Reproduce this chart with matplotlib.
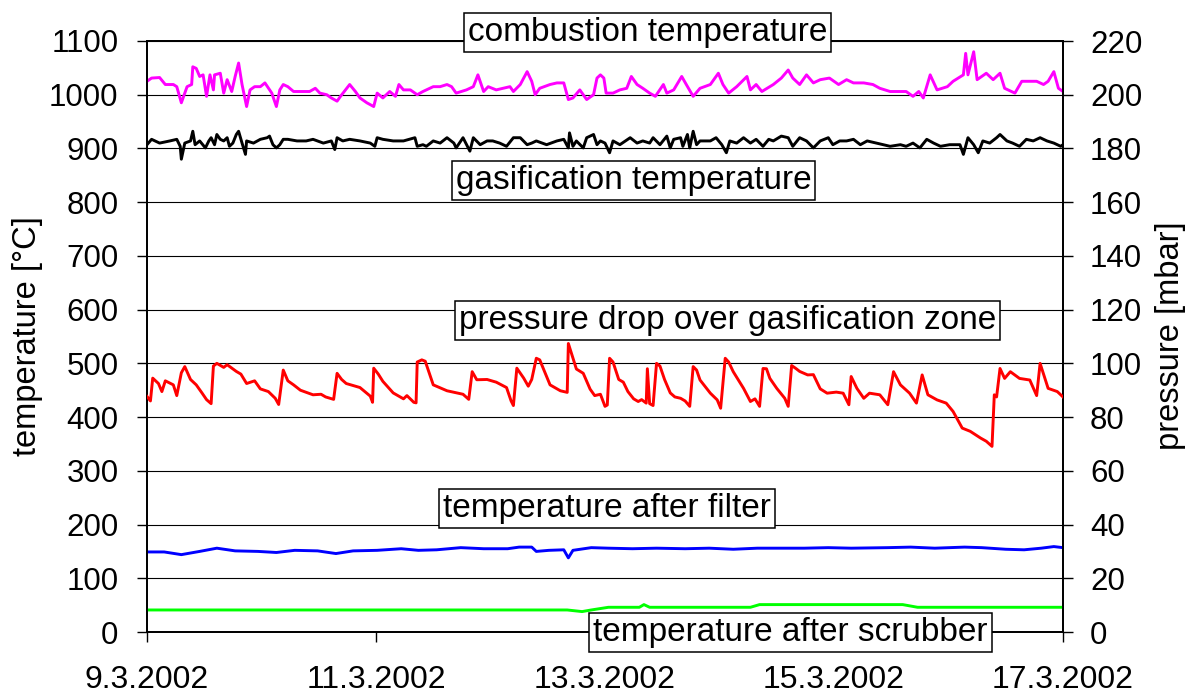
import matplotlib
matplotlib.use("Agg")
import matplotlib.pyplot as plt

plt.rcParams['font.family'] = ['Liberation Sans', 'DejaVu Sans']

# ---------------- data (x = days since 9.3.2002 00:00) ----------------
xtick_days = [0, 2, 4, 6, 8]
xtick_labels = ["9.3.2002", "11.3.2002", "13.3.2002", "15.3.2002", "17.3.2002"]

# combustion temperature [°C]
comb_days = [0.00, 0.04, 0.11, 0.16, 0.23, 0.26, 0.30, 0.35, 0.39, 0.40,
             0.43, 0.46, 0.49, 0.52, 0.55, 0.58, 0.59, 0.64, 0.67, 0.70,
             0.74, 0.77, 0.80, 0.83, 0.87, 0.90, 0.94, 0.99, 1.03, 1.09,
             1.13, 1.16, 1.19, 1.23, 1.28, 1.34, 1.42, 1.47, 1.51, 1.57,
             1.61, 1.66, 1.69, 1.77, 1.82, 1.86, 1.92, 1.98, 2.01, 2.06,
             2.12, 2.17, 2.20, 2.24, 2.30, 2.36, 2.41, 2.50, 2.56, 2.62,
             2.66, 2.70, 2.79, 2.85, 2.89, 2.94, 2.98, 3.05, 3.11, 3.17,
             3.20, 3.26, 3.32, 3.36, 3.39, 3.43, 3.52, 3.58, 3.64, 3.68,
             3.72, 3.78, 3.84, 3.90, 3.93, 3.96, 3.99, 4.01, 4.07, 4.13,
             4.19, 4.23, 4.28, 4.33, 4.39, 4.44, 4.51, 4.54, 4.60, 4.67,
             4.71, 4.77, 4.83, 4.92, 4.99, 5.03, 5.08, 5.15, 5.24, 5.27,
             5.32, 5.37, 5.47, 5.54, 5.60, 5.64, 5.70, 5.76, 5.82, 5.88,
             5.96, 6.04, 6.11, 6.17, 6.26, 6.34, 6.40, 6.49, 6.58, 6.63,
             6.69, 6.74, 6.78, 6.84, 6.90, 6.99, 7.04, 7.13, 7.15, 7.17,
             7.22, 7.25, 7.33, 7.39, 7.45, 7.49, 7.58, 7.64, 7.71, 7.77,
             7.83, 7.87, 7.92, 7.96, 8.00]
comb_vals = [1025, 1031, 1032, 1019, 1019, 1015, 985, 1015, 1019, 1052,
             1049, 1034, 1037, 997, 1037, 1009, 1037, 1040, 1003, 1028,
             1006, 1034, 1059, 1019, 978, 1009, 1015, 1015, 1022, 1003,
             978, 1009, 1019, 1015, 1006, 1006, 1006, 1012, 1003, 1000,
             994, 988, 997, 1019, 1006, 994, 985, 978, 1003, 994,
             1006, 997, 1019, 1009, 1009, 1000, 1006, 1015, 1015, 1019,
             1015, 1003, 1009, 1015, 1037, 1006, 1015, 1009, 1012, 1015,
             1006, 1019, 1043, 1025, 1000, 1012, 1019, 1022, 1022, 991,
             994, 1009, 991, 1000, 1031, 1037, 1031, 1003, 1003, 1009,
             1012, 1034, 1019, 1012, 1003, 997, 1019, 1003, 1009, 1034,
             1019, 997, 1012, 1019, 1040, 1019, 1003, 1015, 1034, 1009,
             1019, 1006, 1019, 1031, 1046, 1031, 1019, 1037, 1022, 1028,
             1031, 1019, 1028, 1022, 1022, 1019, 1012, 1006, 1006, 1006,
             997, 1006, 994, 1037, 1009, 1015, 1025, 1037, 1077, 1037,
             1080, 1028, 1040, 1028, 1040, 1012, 1003, 1025, 1025, 1025,
             1019, 1025, 1043, 1012, 1006]

# gasification temperature [°C]
gas_days = [0.00, 0.04, 0.11, 0.20, 0.26, 0.29, 0.30, 0.33, 0.38, 0.40,
            0.42, 0.46, 0.51, 0.54, 0.56, 0.59, 0.61, 0.64, 0.67, 0.70,
            0.72, 0.75, 0.78, 0.80, 0.83, 0.86, 0.87, 0.93, 0.99, 1.05,
            1.07, 1.10, 1.13, 1.16, 1.19, 1.23, 1.31, 1.39, 1.45, 1.54,
            1.61, 1.64, 1.66, 1.71, 1.77, 1.86, 1.95, 1.99, 2.01, 2.06,
            2.15, 2.24, 2.34, 2.36, 2.41, 2.44, 2.50, 2.56, 2.62, 2.68,
            2.70, 2.76, 2.82, 2.85, 2.91, 2.97, 3.02, 3.08, 3.14, 3.20,
            3.26, 3.32, 3.36, 3.40, 3.49, 3.58, 3.64, 3.68, 3.69, 3.72,
            3.75, 3.81, 3.84, 3.90, 3.93, 3.96, 4.00, 4.04, 4.07, 4.13,
            4.22, 4.28, 4.33, 4.39, 4.42, 4.48, 4.54, 4.57, 4.60, 4.66,
            4.68, 4.72, 4.74, 4.77, 4.80, 4.83, 4.92, 4.97, 5.02, 5.06,
            5.09, 5.15, 5.21, 5.27, 5.32, 5.38, 5.43, 5.47, 5.54, 5.60,
            5.64, 5.70, 5.76, 5.82, 5.88, 5.95, 5.99, 6.05, 6.11, 6.17,
            6.23, 6.29, 6.37, 6.43, 6.49, 6.58, 6.63, 6.69, 6.75, 6.81,
            6.87, 6.93, 7.01, 7.10, 7.13, 7.17, 7.22, 7.26, 7.30, 7.36,
            7.42, 7.45, 7.51, 7.56, 7.62, 7.68, 7.74, 7.80, 7.86, 7.92,
            7.98, 8.00]
gas_vals = [907, 917, 910, 914, 917, 904, 880, 910, 914, 932,
            907, 914, 901, 914, 920, 907, 926, 917, 914, 920,
            904, 910, 926, 932, 910, 889, 914, 910, 917, 920,
            923, 907, 901, 907, 917, 917, 914, 914, 917, 910,
            914, 898, 920, 914, 917, 914, 910, 904, 920, 917,
            914, 914, 920, 904, 907, 904, 914, 910, 920, 910,
            901, 920, 895, 920, 907, 914, 914, 910, 904, 920,
            920, 907, 910, 914, 907, 914, 917, 901, 929, 904,
            914, 901, 920, 926, 907, 914, 910, 892, 914, 907,
            920, 910, 914, 910, 920, 907, 923, 901, 917, 920,
            904, 926, 901, 932, 907, 914, 914, 920, 907, 892,
            914, 910, 920, 910, 917, 904, 917, 914, 923, 920,
            904, 920, 914, 901, 914, 920, 907, 914, 914, 917,
            907, 914, 910, 907, 904, 907, 904, 910, 901, 917,
            910, 904, 907, 907, 889, 920, 907, 892, 914, 910,
            920, 926, 914, 910, 904, 917, 914, 920, 914, 910,
            904, 907]

# pressure drop over gasification zone [mbar]
pres_days = [0.00, 0.03, 0.05, 0.10, 0.13, 0.16, 0.23, 0.26, 0.30, 0.33,
             0.38, 0.43, 0.48, 0.52, 0.56, 0.58, 0.61, 0.67, 0.70, 0.78,
             0.82, 0.87, 0.94, 0.99, 1.06, 1.12, 1.15, 1.19, 1.23, 1.28,
             1.34, 1.45, 1.52, 1.56, 1.63, 1.66, 1.70, 1.74, 1.86, 1.95,
             1.97, 1.98, 2.02, 2.06, 2.15, 2.24, 2.27, 2.33, 2.35, 2.36,
             2.40, 2.43, 2.50, 2.62, 2.76, 2.81, 2.84, 2.88, 2.97, 3.05,
             3.14, 3.18, 3.20, 3.23, 3.29, 3.33, 3.36, 3.40, 3.43, 3.52,
             3.61, 3.67, 3.68, 3.75, 3.81, 3.87, 3.91, 3.96, 4.00, 4.02,
             4.04, 4.07, 4.12, 4.16, 4.20, 4.25, 4.29, 4.32, 4.36, 4.37,
             4.39, 4.42, 4.45, 4.48, 4.52, 4.57, 4.61, 4.66, 4.70, 4.74,
             4.77, 4.80, 4.83, 4.92, 4.98, 5.01, 5.05, 5.08, 5.12, 5.21,
             5.27, 5.31, 5.35, 5.38, 5.41, 5.44, 5.50, 5.57, 5.60, 5.63,
             5.67, 5.70, 5.77, 5.82, 5.88, 5.94, 6.02, 6.08, 6.13, 6.15,
             6.20, 6.26, 6.31, 6.40, 6.47, 6.52, 6.58, 6.66, 6.72, 6.77,
             6.82, 6.90, 6.98, 7.04, 7.12, 7.19, 7.28, 7.33, 7.38, 7.40,
             7.42, 7.45, 7.49, 7.54, 7.62, 7.71, 7.77, 7.80, 7.87, 7.95,
             8.00]
pres_vals = [87.7, 86.0, 94.5, 92.5, 89.5, 93.5, 92.0, 88.0, 96.5, 98.8,
             94.0, 92.0, 89.0, 86.5, 85.0, 99.0, 100.0, 98.5, 99.5, 97.0,
             96.0, 92.5, 93.5, 90.5, 89.5, 87.0, 84.7, 97.5, 93.5, 92.0,
             90.0, 88.3, 88.5, 87.5, 86.6, 96.3, 94.0, 92.5, 91.0, 87.8,
             85.5, 98.2, 96.0, 93.3, 89.0, 86.8, 88.0, 85.5, 85.3, 100.5,
             101.3, 100.8, 92.0, 89.8, 88.5, 86.6, 96.9, 93.9, 94.0, 93.0,
             91.0, 86.0, 84.3, 98.2, 94.5, 91.5, 94.0, 101.9, 101.3, 92.0,
             89.8, 89.2, 107.4, 97.9, 96.3, 90.4, 88.0, 88.5, 84.0, 84.5,
             101.9, 100.5, 94.0, 93.0, 89.5, 86.8, 85.8, 86.5, 85.2, 98.0,
             85.0, 84.3, 100.0, 99.0, 94.0, 89.0, 87.5, 87.0, 86.0, 84.0,
             98.8, 97.5, 93.8, 88.9, 86.4, 83.3, 101.9, 100.5, 96.9, 90.7,
             85.8, 86.8, 84.0, 98.1, 98.0, 94.4, 90.7, 87.0, 84.0, 99.2,
             98.0, 97.0, 95.7, 95.8, 90.5, 88.9, 89.3, 88.9, 84.6, 95.1,
             90.7, 87.0, 88.9, 88.3, 84.6, 96.9, 92.0, 88.9, 85.2, 95.7,
             88.3, 86.4, 85.2, 82.1, 75.9, 74.7, 72.2, 71.0, 69.1, 88.3,
             87.5, 98.1, 94.4, 96.9, 94.4, 93.8, 88.0, 100.0, 90.7, 89.5,
             87.5]

# temperature after filter [°C]
filt_days = [0.00, 0.15, 0.30, 0.46, 0.61, 0.77, 0.97, 1.13, 1.29, 1.49,
             1.65, 1.80, 2.01, 2.22, 2.37, 2.53, 2.74, 2.94, 3.15, 3.25,
             3.36, 3.40, 3.51, 3.64, 3.68, 3.72, 3.88, 4.03, 4.24, 4.45,
             4.70, 4.91, 5.12, 5.33, 5.53, 5.74, 5.95, 6.15, 6.47, 6.67,
             6.88, 7.14, 7.29, 7.50, 7.66, 7.81, 7.92, 8.00]
filt_vals = [149, 149, 144, 150, 156, 151, 150, 148, 152, 151,
             146, 151, 152, 155, 152, 153, 157, 155, 155, 158,
             158, 150, 152, 153, 138, 152, 157, 156, 155, 156,
             155, 156, 154, 156, 156, 156, 157, 156, 157, 158,
             156, 158, 157, 154, 153, 156, 159, 157]

# temperature after scrubber [°C]
scrub_days = [0.00, 3.67, 3.80, 3.88, 4.03, 4.30, 4.34, 4.39, 5.27, 5.35, 6.60, 6.73, 8.00]
scrub_vals = [41, 41, 38, 41, 46, 46, 51, 46, 46, 51, 51, 46, 46]

# label boxes: (text, x in days, y in °C)
label_texts = ["combustion temperature", "gasification temperature",
               "pressure drop over gasification zone",
               "temperature after filter", "temperature after scrubber"]
label_x = [4.37, 4.25, 5.07, 4.02, 5.62]
label_y = [1116, 840, 579, 230, -1]

# ---------------- figure ----------------
fig = plt.figure(figsize=(11.94, 6.95), dpi=100)
ax = fig.add_axes([147 / 1194, 63 / 695, 916 / 1194, 591 / 695])

lw = 2.1
ax.plot(comb_days, comb_vals, color='#FF00FF', lw=lw, zorder=3)
ax.plot(gas_days, gas_vals, color='black', lw=lw, zorder=3)
ax.plot(filt_days, filt_vals, color='#0000FF', lw=lw, zorder=3)
ax.plot(scrub_days, scrub_vals, color='#00FF00', lw=lw, zorder=3)

ax.set_xlim(0, 8)
ax.set_ylim(0, 1100)
ax.set_yticks(range(0, 1101, 100))
ax.set_xticks(xtick_days)
ax.set_xticklabels(xtick_labels)
ax.yaxis.grid(True, color='black', lw=0.8)
ax.set_axisbelow(True)
ax.tick_params(axis='y', direction='out', length=7.5, width=1, pad=13, labelsize=22.5)
ax.tick_params(axis='x', direction='out', length=7.5, width=1, pad=16, labelsize=23)
for s in ax.spines.values():
    s.set_linewidth(1.3)

ax2 = ax.twinx()
ax2.plot(pres_days, pres_vals, color='#FF0000', lw=lw, zorder=3)
ax2.set_ylim(0, 220)
ax2.set_yticks(range(0, 221, 20))
ax2.tick_params(axis='y', direction='out', length=7.5, width=1, pad=12, labelsize=22.5)
for s in ax2.spines.values():
    s.set_linewidth(1.3)

fig.text(28 / 1194, 1 - 336 / 695, "temperature [°C]", rotation=90,
         ha='center', va='center', fontsize=23.5)
fig.text(1170 / 1194, 1 - 336 / 695, "pressure [mbar]", rotation=90,
         ha='center', va='center', fontsize=23.5)

for t, x, y in zip(label_texts, label_x, label_y):
    ax2.text(x, y, t, transform=ax.transData, ha='center', va='center',
             fontsize=24, clip_on=False, zorder=10,
             bbox=dict(boxstyle='square,pad=0.12', fc='white', ec='black', lw=1.1))

fig.savefig("out.png", dpi=100)
